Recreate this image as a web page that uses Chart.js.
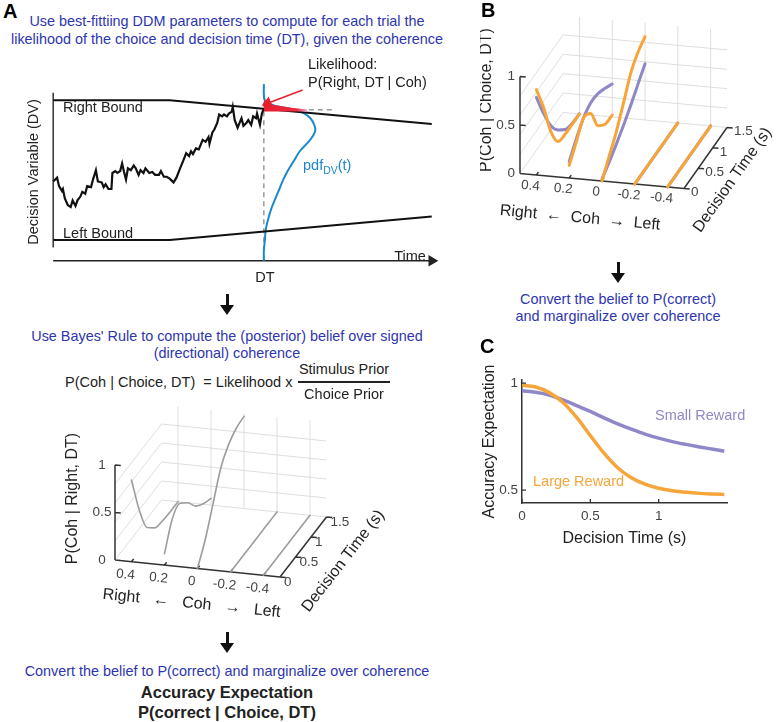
<!DOCTYPE html>
<html>
<head>
<meta charset="utf-8">
<script src="https://cdn.jsdelivr.net/npm/chart.js@4.4.1/dist/chart.umd.min.js"></script>
<style>
body{margin:0;background:#fff;}
#fig{position:relative;width:777px;height:722px;overflow:hidden;font-family:"Liberation Sans",Arial,sans-serif;color:#222;}
.t{position:absolute;white-space:nowrap;line-height:1;}
.c{transform:translate(-50%,-50%);}
.l{transform:translate(0,-50%);}
.r90{transform:translate(-50%,-50%) rotate(-90deg);}
.blue{color:#2d35b0;font-size:14.4px;}
.lab{font-size:14.5px;}
.pl{position:absolute;font-weight:bold;font-size:20px;color:#000;line-height:1;}
canvas{position:absolute;}
.arrow{position:absolute;width:0;height:0;}
.arrow:before{content:"";position:absolute;left:-1.5px;top:0;width:3px;height:13px;background:#111;}
.arrow:after{content:"";position:absolute;left:-7px;top:11px;border-left:7px solid transparent;border-right:7px solid transparent;border-top:10px solid #111;}
</style>
</head>
<body>
<div id="fig">
  <canvas id="ddm" width="450" height="235" style="left:0;top:55px"></canvas>
  <canvas id="postA" width="345" height="225" style="left:55px;top:400px"></canvas>
  <canvas id="postB" width="297" height="245" style="left:480px;top:0"></canvas>
  <canvas id="acc" width="260" height="200" style="left:480px;top:352px"></canvas>

  <div class="pl" style="left:3px;top:1px">A</div>
  <div class="pl" style="left:481px;top:0">B</div>
  <div class="pl" style="left:480px;top:336px">C</div>

  <div class="t c blue" style="left:227px;top:21px">Use best-fittiing DDM parameters to compute for each trial the</div>
  <div class="t c blue" style="left:227px;top:39px">likelihood of the choice and decision time (DT), given the coherence</div>

  <div class="t l lab" style="left:63px;top:107px">Right Bound</div>
  <div class="t l lab" style="left:63px;top:233px">Left Bound</div>
  <div class="t r90 lab" style="left:33px;top:172px">Decision Variable (DV)</div>
  <div class="t c lab" style="left:410px;top:256px">Time</div>
  <div class="t c lab" style="left:265px;top:277px">DT</div>
  <div class="t l lab" style="left:308px;top:64px">Likelihood:</div>
  <div class="t l lab" style="left:308px;top:82px">P(Right, DT | Coh)</div>
  <div class="t l lab" style="left:303px;top:167px;color:#1c88cc">pdf<sub style="font-size:10.5px">DV</sub>(t)</div>

  <div class="arrow" style="left:227px;top:294px"></div>
  <div class="t c blue" style="left:227px;top:336px">Use Bayes' Rule to compute the (posterior) belief over signed</div>
  <div class="t c blue" style="left:227px;top:353px">(directional) coherence</div>
  <div class="t l lab" style="left:65px;top:382px">P(Coh | Choice, DT)&nbsp; = Likelihood x</div>
  <div class="t c lab" style="left:344px;top:369px">Stimulus Prior</div>
  <div style="position:absolute;left:298px;top:381px;width:92px;height:1.5px;background:#222"></div>
  <div class="t c lab" style="left:344px;top:394px">Choice Prior</div>

  <div class="arrow" style="left:227px;top:632px"></div>
  <div class="t c blue" style="left:227px;top:671px">Convert the belief to P(correct) and marginalize over coherence</div>
  <div class="t c" style="left:227px;top:692px;font-weight:bold;font-size:16.5px">Accuracy Expectation</div>
  <div class="t c" style="left:227px;top:712px;font-weight:bold;font-size:16.5px">P(correct | Choice, DT)</div>

  <div class="arrow" style="left:618px;top:262px"></div>
  <div class="t c blue" style="left:618px;top:299px">Convert the belief to P(correct)</div>
  <div class="t c blue" style="left:618px;top:316px">and marginalize over coherence</div>

  <div class="t l lab" style="left:655px;top:415px;color:#8f88c8">Small Reward</div>
  <div class="t l lab" style="left:533px;top:481px;color:#f5a53a">Large Reward</div>
</div>

<script>
// ---- Panel A (top): DDM sketch, arbitrary units (time steps, DV units)
var traceT = [0,4,6,9,10,12,15,18,20,23,25,28,30,33,35,39,41,44,46,50,52,54,57,60,61,64,66,69,71,73,75,77,80,83,85,88,90,93,95,99,102,105,109,111,114,117,120,124,127,130,132,134,137,140,142,144,147,150,152,154,157,160,161,164,166,169,171,174,176,179,181,184,185,187,190,192,194,196,199,201,204,206,209,210,213,215,217];
var traceDV = [-12,-8,-17,-22,-20,-30,-37,-39,-32,-38,-32,-28,-23,-25,-17,-18,-10,0,-12,-13,-18,-15,-20,-20,-3,-1,-3,-1,7,-2,-10,2,0,5,2,-5,0,-3,2,-3,-2,-5,-5,-1,-7,-7,-9,-13,-8,0,5,10,18,15,20,17,23,22,27,32,30,35,28,40,43,50,59,57,59,57,60,62,67,53,45,50,55,47,50,53,48,57,55,60,48,60,65];
var boundT = [0, 120, 390];
var rightBoundDV = [74, 74, 49];
var leftBoundDV = [-74, -74, -49];
var decisionTime = 217;
var pdfDV = [91, 80, 74, 71, 68, 64, 60, 55, 48, 42, 37, 30, 20, 10, 0, -10, -20, -30, -40, -50, -63, -75, -85, -96];
var pdfDensity = [0, 0, 1, 5, 12, 32, 42, 48, 52, 53, 51, 46, 37, 31, 25, 20, 16, 12, 8, 5, 2, 1, 0, 0];
var likeT = [217, 219, 223, 230, 240, 250, 262];
var likeDV = [76, 72, 70, 68.5, 67, 65.5, 64];

// ---- Panels A (bottom) and B: posterior over signed coherence
var cohLevels = [0.4, 0.2, 0, -0.2, -0.4];
var dtSteps = [0, 0.25, 0.5, 0.75, 1, 1.25, 1.5];
var postRight = [
  [0.86, 0.44, 0.15, 0.04, 0.01, 0, 0],
  [0.12, 0.38, 0.44, 0.34, 0.20, 0.12, 0.07],
  [0, 0.20, 0.47, 0.74, 0.88, 0.95, 0.97],
  [0, 0, 0, 0, 0, 0, 0],
  [0, 0, 0, 0, 0, 0, 0]
];
var postLarge = [
  [0.88, 0.59, 0.24, 0.03, 0, 0, 0],
  [0.13, 0.27, 0.41, 0.35, 0.12, 0.03, 0.02],
  [0, 0.15, 0.30, 0.49, 0.69, 0.80, 0.86],
  [0, 0, 0, 0, 0, 0, 0],
  [0, 0, 0, 0, 0, 0, 0]
];
var postSmall = [
  [0.80, 0.53, 0.30, 0.15, 0.05, 0.01, 0],
  [0.17, 0.30, 0.41, 0.46, 0.45, 0.40, 0.34],
  [0.02, 0.09, 0.17, 0.26, 0.36, 0.47, 0.58],
  [0, 0, 0, 0, 0, 0, 0],
  [0, 0, 0, 0, 0, 0, 0]
];
var zTicks = [0, 0.5, 1];
var dtTicks = [0, 0.5, 1, 1.5];

// ---- Panel C: accuracy expectation
var dtC = [0, 0.1, 0.2, 0.3, 0.4, 0.5, 0.6, 0.7, 0.8, 0.9, 1.0, 1.1, 1.2, 1.3, 1.4, 1.48];
var accSmall = [0.965, 0.958, 0.945, 0.922, 0.895, 0.868, 0.838, 0.81, 0.785, 0.762, 0.743, 0.727, 0.714, 0.702, 0.691, 0.682];
var accLarge = [0.99, 0.982, 0.956, 0.91, 0.84, 0.755, 0.673, 0.605, 0.558, 0.528, 0.509, 0.497, 0.49, 0.485, 0.482, 0.48];
var accTicksX = [0, 0.5, 1];
var accTicksY = [0.5, 1];

var ORANGE = '#f5a53a', PURPLE = '#8f88c8';

Chart.defaults.font.family = '"Liberation Sans", Arial, sans-serif';
Chart.defaults.animation = false;
Chart.defaults.responsive = false;
Chart.defaults.plugins.legend.display = false;
Chart.defaults.plugins.tooltip.enabled = false;

function hidden(min, max, rev) {
  return { type: 'linear', display: false, min: min, max: max, reverse: !!rev };
}
function xy(xs, ys) { return xs.map(function (x, i) { return { x: x, y: ys[i] }; }); }

// ---------- A top: the DDM picture
new Chart(document.getElementById('ddm'), {
  type: 'line',
  data: {
    datasets: [
      { // red arrow to the likelihood
        data: [{ x: 257, y: 85 }, { x: 221, y: 71 }],
        borderColor: '#e8202c', backgroundColor: '#e8202c', borderWidth: 1.6,
        pointRadius: [0, 5], pointStyle: 'triangle', pointRotation: 248, order: 0
      },
      {
        data: xy(likeT, likeDV), borderWidth: 0, pointRadius: 0, tension: 0.3,
        fill: { value: 62 }, order: 1,
        backgroundColor: function (c) {
          var ch = c.chart; if (!ch.chartArea) return '#e8202c';
          var sx = ch.scales.x;
          var g = ch.ctx.createLinearGradient(sx.getPixelForValue(217), 0, sx.getPixelForValue(262), 0);
          g.addColorStop(0, '#ea1d2e'); g.addColorStop(0.75, '#ec2a3f'); g.addColorStop(1, '#f6a6cc');
          return g;
        }
      },
      { data: xy(traceT, traceDV), borderColor: '#111', borderWidth: 2.2, pointRadius: 0, order: 2 },
      { data: xy(boundT, rightBoundDV), borderColor: '#111', borderWidth: 2, pointRadius: 0, order: 3 },
      { data: xy(boundT, leftBoundDV), borderColor: '#111', borderWidth: 2, pointRadius: 0, order: 3 },
      {
        data: pdfDV.map(function (v, i) { return { x: decisionTime + pdfDensity[i], y: v }; }),
        borderColor: '#1c88cc', borderWidth: 2, pointRadius: 0, tension: 0.35, order: 4
      },
      {
        data: [{ x: decisionTime, y: 91 }, { x: decisionTime, y: -96 }, { x: decisionTime, y: null },
               { x: decisionTime, y: 64 }, { x: decisionTime + 72, y: 64 }],
        borderColor: '#999', borderWidth: 1.5, borderDash: [5, 4], pointRadius: 0, order: 5
      },
      {
        data: [{ x: 0, y: 82 }, { x: 0, y: -82 }],
        borderColor: '#333', borderWidth: 1.5, pointRadius: 0, order: 6
      },
      {
        data: [{ x: 0, y: -96 }, { x: 390, y: -96 }],
        borderColor: '#222', backgroundColor: '#222', borderWidth: 1.5,
        pointRadius: [0, 5], pointStyle: 'triangle', pointRotation: 90, order: 6
      }
    ]
  },
  options: { scales: { x: hidden(-48, 402), y: hidden(-120, 115) } }
});

// ---------- 3D panels (orthographic projection drawn on linear scales)
function make3D(id, cam, series, look) {
  var canvas = document.getElementById(id);
  var W = canvas.width, H = canvas.height;
  var cMax = 0.5, cMin = -0.5, dMax = 1.5, zTop = 1.0;
  function P(c, d, z) {
    return { x: cam.o[0] + c * cam.c[0] + d * cam.d[0] + z * cam.z[0],
             y: cam.o[1] + c * cam.c[1] + d * cam.d[1] + z * cam.z[1] };
  }
  function segs(list) {
    var out = [];
    list.forEach(function (s) {
      var a = P(s[0][0], s[0][1], s[0][2]), b = P(s[1][0], s[1][1], s[1][2]);
      out.push(a, b, { x: b.x, y: null });
    });
    return out;
  }
  var grid = [];
  [0, 0.2, 0.4, 0.6, 0.8].forEach(function (z) {
    grid.push([[cMax, 0, z], [cMax, dMax, z]]);
    grid.push([[cMax, dMax, z], [cMin, dMax, z]]);
  });
  cohLevels.forEach(function (c) { grid.push([[c, dMax, 0], [c, dMax, zTop]]); });

  var axes = [[[cMax, 0, 0], [cMax, 0, 1]], [[cMax, 0, 0], [cMin, 0, 0]], [[cMin, 0, 0], [cMin, dMax, 0]]];
  zTicks.forEach(function (v) { axes.push([[cMax, 0, v], [cMax - 0.035, 0, v]]); });
  cohLevels.forEach(function (c) { axes.push([[c, 0, 0], [c, 0.07, 0]]); });
  dtTicks.forEach(function (d) { axes.push([[cMin, d, 0], [cMin - 0.035, d, 0]]); });

  var ds = [
    { data: segs(grid), borderColor: '#dedede', borderWidth: 1, pointRadius: 0, order: 30 },
    { data: segs(axes), borderColor: '#333', borderWidth: 1.5, pointRadius: 0, order: 20 }
  ];
  series.forEach(function (s, k) {
    cohLevels.forEach(function (c, i) {
      ds.push({
        data: dtSteps.map(function (d, j) { return P(c, d, s.values[i][j]); }),
        borderColor: s.color, borderWidth: s.width, pointRadius: 0,
        cubicInterpolationMode: 'monotone', borderCapStyle: 'round', order: 10 - k
      });
    });
  });

  var angC = Math.atan2(-cam.c[1], -cam.c[0]);
  var angD = Math.atan2(cam.d[1], cam.d[0]);
  var labels3d = {
    id: 'labels3d',
    afterDatasetsDraw: function (chart) {
      var ctx = chart.ctx, sx = chart.scales.x, sy = chart.scales.y;
      function txt(s, p, off, align, ang, font, color) {
        ctx.save();
        ctx.translate(sx.getPixelForValue(p.x) + off[0], sy.getPixelForValue(p.y) + off[1]);
        ctx.rotate(ang);
        ctx.font = font; ctx.fillStyle = color; ctx.textAlign = align; ctx.textBaseline = 'middle';
        ctx.fillText(s, 0, 0);
        ctx.restore();
      }
      var tf = '13.5px "Liberation Sans", Arial, sans-serif', tc = '#444';
      var hf = '16px "Liberation Sans", Arial, sans-serif', hc = '#222';
      zTicks.forEach(function (v) { txt(String(v), P(cMax, 0, v), look.zTick, look.zAlign, 0, tf, tc); });
      cohLevels.forEach(function (c) { txt(String(c), P(c, 0, 0), look.cohTick, 'center', angC, tf, tc); });
      dtTicks.forEach(function (d) { txt(String(d), P(cMin, d, 0), look.dtTick, 'left', 0, tf, tc); });
      txt(look.cohTitleText, P(0, 0, 0), look.cohTitle, 'center', angC, hf, hc);
      txt('Decision Time (s)', P(cMin, dMax / 2, 0), look.dtTitle, 'center', angD, hf, hc);
      txt(look.zTitle, P(cMax, 0, 0.5), look.zTitleOff, 'center', -Math.PI / 2, hf, hc);
    }
  };

  return new Chart(canvas, {
    type: 'line',
    data: { datasets: ds },
    options: { scales: { x: hidden(0, W), y: hidden(0, H, true) } },
    plugins: [labels3d]
  });
}

make3D('postA',
  { o: [142.5, 168.5], c: [-165, -17], d: [31, -40], z: [0, -95] },
  [{ values: postRight, color: '#9c9c9c', width: 1.6 }],
  { zTick: [-13, 0], zAlign: 'center', cohTick: [-6, 13], dtTick: [4, 5],
    cohTitleText: 'Right   \u2190   Coh   \u2192   Left',
    cohTitle: [-6, 35], dtTitle: [40, 14], zTitle: 'P(Coh | Right, DT)', zTitleOff: [-42, -14] });

make3D('postB',
  { o: [122, 181], c: [-164, -15], d: [28.7, -40.7], z: [0, -97] },
  [{ values: postSmall, color: PURPLE, width: 3 }, { values: postLarge, color: ORANGE, width: 3 }],
  { zTick: [-5, 0], zAlign: 'right', cohTick: [-6, 11], dtTick: [7, 4],
    cohTitleText: 'Right  \u2190  Coh  \u2192  Left',
    cohTitle: [-22, 37], dtTitle: [27, 22], zTitle: 'P(Coh | Choice, DT)', zTitleOff: [-33, -25] });

// ---------- C: accuracy expectation vs decision time
var inwardTicks = {
  id: 'inwardTicks',
  afterDatasetsDraw: function (chart) {
    var ctx = chart.ctx, a = chart.chartArea, sx = chart.scales.x, sy = chart.scales.y;
    ctx.save(); ctx.strokeStyle = '#333'; ctx.lineWidth = 1.3; ctx.beginPath();
    accTicksY.forEach(function (v) { var p = sy.getPixelForValue(v); ctx.moveTo(a.left, p); ctx.lineTo(a.left + 4, p); });
    accTicksX.forEach(function (v) { var p = sx.getPixelForValue(v); ctx.moveTo(p, a.bottom); ctx.lineTo(p, a.bottom - 4); });
    ctx.stroke(); ctx.restore();
  }
};

new Chart(document.getElementById('acc'), {
  type: 'line',
  data: {
    datasets: [
      { label: 'Large Reward', data: xy(dtC, accLarge), borderColor: ORANGE, borderWidth: 3.5,
        pointRadius: 0, cubicInterpolationMode: 'monotone' },
      { label: 'Small Reward', data: xy(dtC, accSmall), borderColor: PURPLE, borderWidth: 3.5,
        pointRadius: 0, cubicInterpolationMode: 'monotone' }
    ]
  },
  options: {
    layout: { padding: { top: 28, right: 13, left: 0, bottom: 0 } },
    scales: {
      x: {
        type: 'linear', min: 0, max: 1.5,
        afterBuildTicks: function (ax) { ax.ticks = accTicksX.map(function (v) { return { value: v }; }); },
        afterFit: function (s) { s.height = 49; },
        ticks: { color: '#444', font: { size: 13.5 }, padding: 5, maxRotation: 0, autoSkip: false,
                 callback: function (v) { return String(v); } },
        grid: { display: false, drawTicks: false },
        border: { color: '#333', width: 1.5 },
        title: { display: true, text: 'Decision Time (s)', color: '#222', font: { size: 16 }, padding: { top: 0, bottom: 4 } }
      },
      y: {
        min: 0.44, max: 1.015,
        afterBuildTicks: function (ax) { ax.ticks = accTicksY.map(function (v) { return { value: v }; }); },
        afterFit: function (s) { s.width = 42; },
        ticks: { color: '#444', font: { size: 13.5 }, padding: 4, callback: function (v) { return String(v); } },
        grid: { display: false, drawTicks: false },
        border: { color: '#333', width: 1.5 },
        title: { display: true, text: 'Accuracy Expectation', color: '#222', font: { size: 16 }, padding: { top: 0, bottom: 0 } }
      }
    }
  },
  plugins: [inwardTicks]
});
</script>
</body>
</html>
